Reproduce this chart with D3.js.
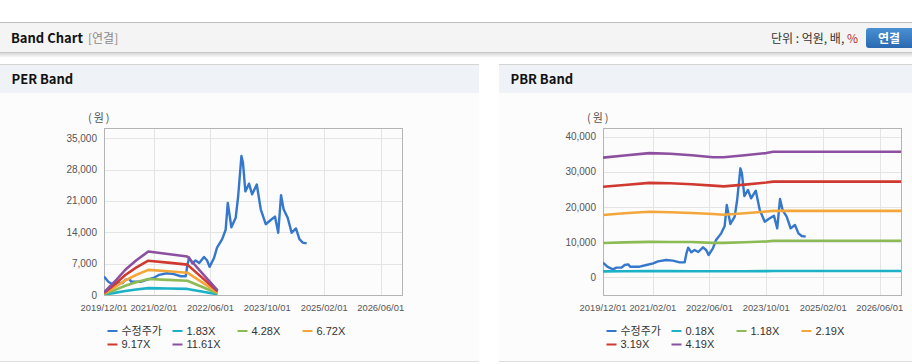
<!DOCTYPE html>
<html>
<head>
<meta charset="utf-8">
<script src="https://cdn.jsdelivr.net/npm/d3@7"></script>
<style>
body { margin: 0; background: #fff; }
svg text { font-family: "Liberation Sans", Arial, "Noto Sans CJK KR", sans-serif; }
</style>
</head>
<body>
<svg id="page" width="912" height="364"></svg>
<script>
// ---- data ----
var xTickLabels = ["2019/12/01", "2021/02/01", "2022/06/01", "2023/10/01", "2025/02/01", "2026/06/01"];
var perTicks = [0, 7000, 14000, 21000, 28000, 35000];
var pbrTicks = [0, 10000, 20000, 30000, 40000];

// 수정주가 (adjusted price)
var priceDates = ["2019-12-01","2020-01-07","2020-02-25","2020-03-25","2020-05-07","2020-06-04","2020-07-04","2020-07-22",
  "2020-10-10","2020-12-07","2021-02-04","2021-03-16","2021-05-25","2021-07-22","2021-09-19","2021-11-01","2021-11-16",
  "2021-12-01","2021-12-28","2022-01-25","2022-02-25","2022-04-07","2022-05-04","2022-05-25","2022-07-01","2022-07-28",
  "2022-09-10","2022-10-10","2022-10-28","2022-11-28","2023-01-04","2023-01-25","2023-02-22","2023-03-07","2023-03-28",
  "2023-04-28","2023-05-25","2023-07-04","2023-08-07","2023-09-19","2023-11-01","2023-12-07","2024-01-04","2024-01-28",
  "2024-02-19","2024-03-25","2024-04-28","2024-06-04","2024-07-04","2024-08-01","2024-09-04"];
var priceValues = [4100, 2950, 2190, 2670, 2670, 3430, 3620, 2950,
  2950, 3430, 3900, 4480, 4860, 4670, 4190, 4190, 6760,
  8380, 7050, 7710, 7140, 8480, 7710, 6290, 8190, 10570,
  12470, 14570, 20570, 15140, 17240, 22000, 31050, 29620, 23140,
  24860, 22480, 24670, 19140, 15810, 16760, 17520, 13900, 22280,
  19140, 17240, 13900, 14860, 12470, 11710, 11520];

// PER band lines
var perNames = ["1.83X", "4.28X", "6.72X", "9.17X", "11.61X"];
var perDates = ["2019-12-01","2020-03-01","2020-06-01","2020-09-01","2020-12-15","2021-06-01","2021-11-15","2022-08-01"];
var per183 = [92, 470, 890, 1220, 1530, 1440, 1360, 163];
var per428 = [214, 1090, 2080, 2850, 3580, 3370, 3170, 380];
var per672 = [336, 1710, 3270, 4470, 5620, 5300, 4980, 600];
var per917 = [460, 2340, 4460, 6100, 7660, 7230, 6790, 815];
var per1161 = [580, 2960, 5640, 7720, 9700, 9150, 8600, 1030];

// PBR band lines
var pbrNames = ["0.18X", "1.18X", "2.19X", "3.19X", "4.19X"];
var pbrDates = ["2019-12-01","2020-06-01","2021-01-01","2021-07-01","2022-01-01","2022-07-01","2022-10-01",
  "2023-04-01","2023-10-01","2023-12-01","2026-12-01"];
var pbr018 = [1620, 1650, 1690, 1680, 1660, 1630, 1630, 1650, 1690, 1710, 1710];
var pbr118 = [9700, 9900, 10050, 10000, 10000, 9750, 9750, 9950, 10150, 10350, 10350];
var pbr219 = [17700, 18200, 18650, 18500, 18300, 18000, 17800, 18200, 18700, 18900, 18900];
var pbr319 = [25800, 26300, 26900, 26800, 26500, 26100, 25900, 26400, 27000, 27250, 27250];
var pbr419 = [34100, 34700, 35400, 35200, 34800, 34200, 34200, 34800, 35400, 35800, 35800];

var priceName = "수정주가";
var seriesColors = ["#3577cc", "#1cb2c6", "#8cba55", "#f3a73b", "#cf3930", "#8d4f9f"];

// ---- page frame ----
var parseDate = d3.timeParse("%Y-%m-%d");
var parseTick = d3.timeParse("%Y/%m/%d");
var svg = d3.select("#page");

var defs = svg.append("defs");
var shadow = defs.append("linearGradient").attr("id", "shadow").attr("x1", 0).attr("y1", 0).attr("x2", 0).attr("y2", 1);
shadow.append("stop").attr("offset", 0).attr("stop-color", "#d8d8d8");
shadow.append("stop").attr("offset", 1).attr("stop-color", "#ffffff");
var btnGrad = defs.append("linearGradient").attr("id", "btn").attr("x1", 0).attr("y1", 0).attr("x2", 0).attr("y2", 1);
btnGrad.append("stop").attr("offset", 0).attr("stop-color", "#4a8fd3");
btnGrad.append("stop").attr("offset", 1).attr("stop-color", "#2a69b0");

// top bar
svg.append("rect").attr("x", 0).attr("y", 53).attr("width", 912).attr("height", 5).attr("fill", "url(#shadow)");
svg.append("rect").attr("x", 0).attr("y", 22).attr("width", 912).attr("height", 31).attr("fill", "#f4f4f4");
svg.append("line").attr("x1", 0).attr("x2", 912).attr("y1", 22.5).attr("y2", 22.5).attr("stroke", "#bdbdbd");
svg.append("line").attr("x1", 0).attr("x2", 912).attr("y1", 52.5).attr("y2", 52.5).attr("stroke", "#c8c8c8");
svg.append("text").attr("x", 11).attr("y", 43).attr("font-size", 13).attr("font-weight", "bold").attr("fill", "#111")
  .style("font-family", "'Noto Sans CJK KR', sans-serif").text("Band Chart");
svg.append("text").attr("x", 88).attr("y", 43).attr("font-size", 12).attr("fill", "#8a8a8a")
  .style("font-family", "'Noto Sans CJK KR', sans-serif").text("[연결]");
var unit = svg.append("text").attr("x", 858).attr("y", 43).attr("font-size", 12).attr("fill", "#333")
  .attr("text-anchor", "end").style("font-family", "'Noto Sans CJK KR', sans-serif");
unit.append("tspan").text("단위 : 억원, 배, ");
unit.append("tspan").attr("fill", "#b0302a").text("%");
svg.append("rect").attr("x", 866).attr("y", 28).attr("width", 50).attr("height", 20).attr("rx", 3).attr("fill", "url(#btn)");
svg.append("text").attr("x", 889).attr("y", 42.5).attr("font-size", 12).attr("font-weight", "bold").attr("fill", "#fff")
  .attr("text-anchor", "middle").style("font-family", "'Noto Sans CJK KR', sans-serif").text("연결");

// panels
function drawPanel(x0, w, title) {
  svg.append("rect").attr("x", x0).attr("y", 93).attr("width", w).attr("height", 268).attr("fill", "#fcfcfc");
  svg.append("rect").attr("x", x0).attr("y", 64).attr("width", w).attr("height", 29).attr("fill", "#eff2f6");
  svg.append("line").attr("x1", x0).attr("x2", x0 + w).attr("y1", 64.5).attr("y2", 64.5).attr("stroke", "#d4d4d4");
  svg.append("line").attr("x1", x0).attr("x2", x0 + w).attr("y1", 361.5).attr("y2", 361.5).attr("stroke", "#dedede");
  svg.append("text").attr("x", x0 + 11.5).attr("y", 84).attr("font-size", 13).attr("font-weight", "bold").attr("fill", "#111")
    .style("font-family", "'Noto Sans CJK KR', sans-serif").text(title);
}
drawPanel(0, 479, "PER Band");
drawPanel(499, 413, "PBR Band");

// ---- one band chart ----
function GenerateBand(opts) {
  var x = d3.scaleTime()
    .domain([parseDate("2019-12-01"), parseDate("2026-12-01")])
    .range([opts.left, opts.right]);
  var y = d3.scaleLinear().domain(opts.yDomain).range([opts.bottom, opts.top]);

  var g = svg.append("g");
  var tickDates = xTickLabels.map(parseTick);

  // grid
  g.append("g").selectAll("line").data(tickDates.slice(1)).join("line")
    .attr("x1", d => Math.round(x(d)) + 0.5).attr("x2", d => Math.round(x(d)) + 0.5)
    .attr("y1", opts.top).attr("y2", opts.bottom).attr("stroke", "#e4e4e4");
  g.append("g").selectAll("line").data(opts.yTicks).join("line")
    .attr("x1", opts.left).attr("x2", opts.right)
    .attr("y1", d => Math.round(y(d)) + 0.5).attr("y2", d => Math.round(y(d)) + 0.5).attr("stroke", "#e4e4e4");

  // frame
  g.append("rect").attr("x", opts.left + 0.5).attr("y", opts.top + 0.5)
    .attr("width", opts.right - opts.left).attr("height", opts.bottom - opts.top)
    .attr("fill", "none").attr("stroke", "#b4b4b4");

  // y labels
  g.append("g").selectAll("text").data(opts.yTicks).join("text")
    .attr("x", opts.left - 7).attr("y", d => y(d)).attr("dy", "0.35em")
    .attr("text-anchor", "end").attr("font-size", 10).attr("fill", "#555")
    .text(d => d3.format(",")(d));
  g.append("text").attr("x", opts.left - 16).attr("y", 122).attr("font-size", 11).attr("fill", "#555")
    .attr("letter-spacing", 2).style("font-family", "'Noto Sans CJK KR', sans-serif").text("(원)");

  // x labels
  g.append("g").selectAll("text").data(tickDates).join("text")
    .attr("x", d => x(d)).attr("y", 311).attr("text-anchor", "middle")
    .attr("font-size", 9.4).attr("fill", "#555")
    .text((d, i) => xTickLabels[i]);

  // lines
  var line = d3.line().x(d => x(d.date)).y(d => y(d.value));
  var all = [{ name: priceName, dates: priceDates, values: priceValues, w: 2.4 }];
  opts.bands.forEach((b, i) => all.push({ name: opts.names[i], dates: opts.bandDates, values: b, w: 2.6 }));

  var clipId = "clip" + Math.round(opts.left);
  defs.append("clipPath").attr("id", clipId).append("rect")
    .attr("x", opts.left).attr("y", opts.top).attr("width", opts.right - opts.left).attr("height", opts.bottom - opts.top);

  g.append("g").attr("clip-path", "url(#" + clipId + ")").selectAll("path").data(all).join("path")
    .attr("fill", "none")
    .attr("stroke", (d, i) => seriesColors[i])
    .attr("stroke-width", d => d.w)
    .attr("stroke-linejoin", "round")
    .attr("d", d => line(d.values.map((v, k) => ({ date: parseDate(d.dates[k]), value: v }))));

  // legend
  var legend = g.append("g");
  all.forEach((d, i) => {
    var lx = opts.left + 3.5 + (i % 4) * 65;
    var ly = 331 + Math.floor(i / 4) * 13.5;
    legend.append("line").attr("x1", lx).attr("x2", lx + 10).attr("y1", ly).attr("y2", ly)
      .attr("stroke", seriesColors[i]).attr("stroke-width", 2);
    legend.append("text").attr("x", lx + 14).attr("y", ly).attr("dy", "0.36em")
      .attr("font-size", 11).attr("fill", "#333").text(d.name);
  });
}

GenerateBand({
  left: 104, right: 402, top: 128, bottom: 295,
  yDomain: [0, 37300], yTicks: perTicks,
  names: perNames, bandDates: perDates,
  bands: [per183, per428, per672, per917, per1161]
});
GenerateBand({
  left: 603, right: 901, top: 128, bottom: 295,
  yDomain: [-5140, 42570], yTicks: pbrTicks,
  names: pbrNames, bandDates: pbrDates,
  bands: [pbr018, pbr118, pbr219, pbr319, pbr419]
});
</script>
</body>
</html>
